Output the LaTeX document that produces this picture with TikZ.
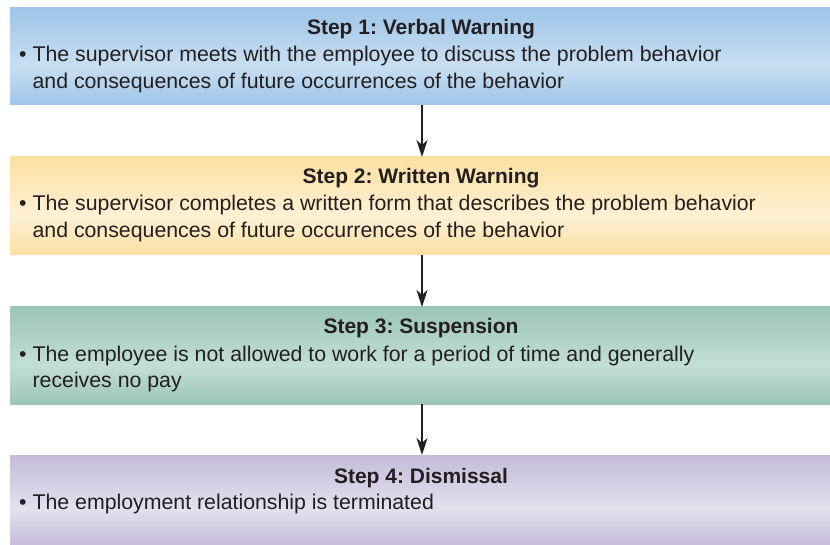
\documentclass[tikz,border=0pt]{standalone}
\usepackage{fontspec}
\setmainfont{Liberation Sans}
\usetikzlibrary{arrows.meta}
\frenchspacing
\definecolor{txt}{HTML}{231F20}
\definecolor{bD}{HTML}{9DC5E8}\definecolor{bL}{HTML}{C9DFF2}
\definecolor{yD}{HTML}{FDDFA2}\definecolor{yL}{HTML}{FEF1D4}
\definecolor{gD}{HTML}{9BC4B7}\definecolor{gL}{HTML}{C3DFD7}
\definecolor{pD}{HTML}{C4BCDA}\definecolor{pL}{HTML}{E4E1EE}
\pgfdeclareverticalshading{sblue}{100bp}{color(0bp)=(bD); color(25bp)=(bD); color(45bp)=(bL); color(75bp)=(bD); color(100bp)=(bD)}
\pgfdeclareverticalshading{syellow}{100bp}{color(0bp)=(yD); color(25bp)=(yD); color(45bp)=(yL); color(75bp)=(yD); color(100bp)=(yD)}
\pgfdeclareverticalshading{sgreen}{100bp}{color(0bp)=(gD); color(25bp)=(gD); color(45bp)=(gL); color(75bp)=(gD); color(100bp)=(gD)}
\pgfdeclareverticalshading{spurple}{100bp}{color(0bp)=(pD); color(25bp)=(pD); color(45bp)=(pL); color(75bp)=(pD); color(100bp)=(pD)}
\tikzset{
  stepbox/.style={rectangle, draw=none, minimum width=820pt, inner sep=0pt, outer sep=0pt},
  steptitle/.style={anchor=base, inner sep=0pt, text=txt, font=\fontsize{21}{26}\selectfont\bfseries},
  stepbody/.style={anchor=base west, inner sep=0pt, align=left, text=txt, font=\fontsize{21.3}{26.3}\selectfont},
  arr/.style={draw=txt, line width=2pt, -{Stealth[length=17pt,width=11pt,inset=5pt]}}
}
\newcommand{\bul}{\textbullet\ }
\newcommand{\ind}{\phantom{\textbullet\ }}
\begin{document}
\begin{tikzpicture}[x=1pt,y=-1pt]
\useasboundingbox (0,0) rectangle (830,545);
\node[stepbox, shading=sblue, minimum height=97pt] (b1) at (420,56.5) {};
\node[stepbox, shading=syellow, minimum height=98pt] (b2) at (420,206) {};
\node[stepbox, shading=sgreen, minimum height=97pt] (b3) at (420,355.5) {};
\node[stepbox, shading=spurple, minimum height=90pt] (b4) at (420,500) {};

\node[steptitle] (t1) at (421,35) {Step 1: Verbal Warning};
\node[stepbody] (d1) at (19,88.3) {\bul The supervisor meets with the employee to discuss the problem behavior\\\ind and consequences of future occurrences of the behavior};
\node[steptitle] (t2) at (421,184) {Step 2: Written Warning};
\node[stepbody] (d2) at (19,237.3) {\bul The supervisor completes a written form that describes the problem behavior\\\ind and consequences of future occurrences of the behavior};
\node[steptitle] (t3) at (421,334) {Step 3: Suspension};
\node[stepbody] (d3) at (19,387.3) {\bul The employee is not allowed to work for a period of time and generally\\\ind receives no pay};
\node[steptitle] (t4) at (421,483) {Step 4: Dismissal};
\node[stepbody] (d4) at (19,509) {\bul The employment relationship is terminated};

\draw[arr] ([xshift=2pt]b1.south) -- ([xshift=2pt]b2.north);
\draw[arr] ([xshift=2pt]b2.south) -- ([xshift=2pt]b3.north);
\draw[arr] ([xshift=2pt]b3.south) -- ([xshift=2pt]b4.north);
\end{tikzpicture}
\end{document}
